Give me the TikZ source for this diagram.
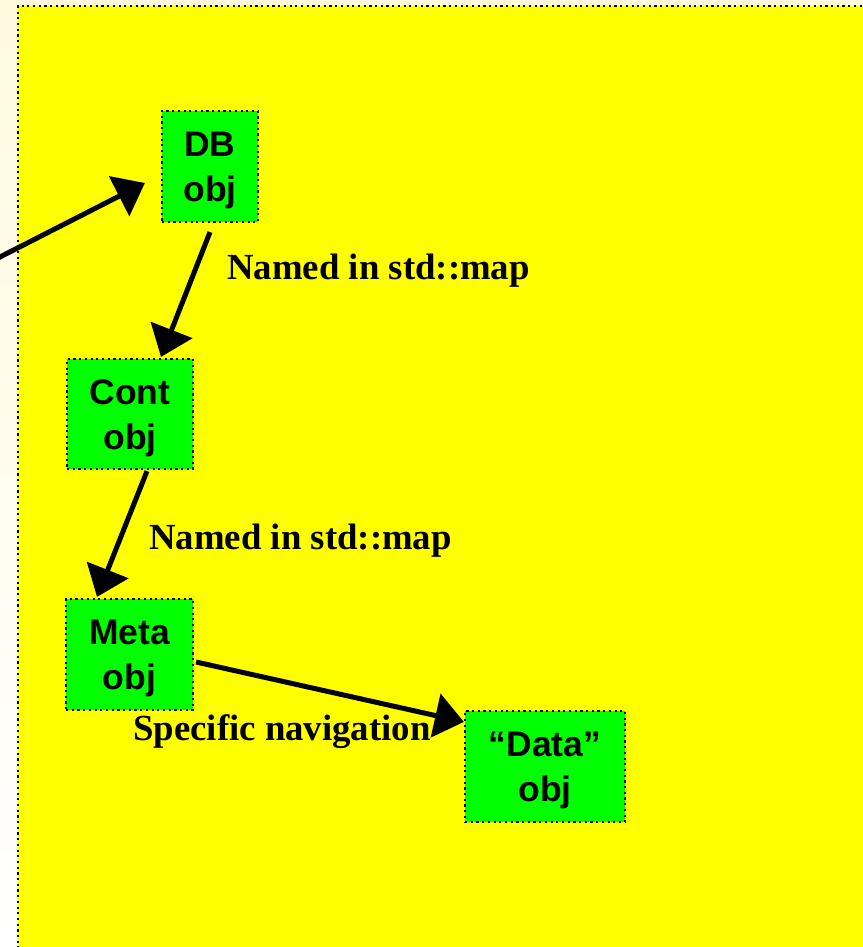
\documentclass[tikz,border=0pt]{standalone}
\usepackage{fontspec}
\setmainfont{Liberation Serif}
\newfontfamily\boxfont{Liberation Sans}
\usetikzlibrary{arrows.meta}
\definecolor{bgyellow}{RGB}{255,255,0}
\definecolor{boxgreen}{RGB}{0,255,0}
\definecolor{cream}{RGB}{255,250,222}
\tikzset{
  objbox/.style={draw=black, fill=boxgreen, line width=2.2pt, dash pattern=on 2.2pt off 3.5pt, inner sep=0pt},
  boxtext/.style={font=\boxfont\bfseries\fontsize{35.5}{45}\selectfont, align=center, inner sep=0pt},
  lbl/.style={font=\bfseries\fontsize{36.8}{42}\selectfont, inner sep=0pt, anchor=base west},
  arr/.style={line width=5pt, -{Triangle[length=29pt,width=44pt]}}
}
\begin{document}
\begin{tikzpicture}[x=1pt,y=-1pt]
\useasboundingbox (0,0) rectangle (862,947);
\shade[top color=cream, bottom color=white] (0,0) rectangle (862,947);
\fill[bgyellow] (18,6) rectangle (875,960);
\draw[line width=2.2pt, dash pattern=on 2.2pt off 3.5pt] (18,960) -- (18,6) -- (875,6);
% boxes
\node[objbox, minimum width=96pt, minimum height=111pt] (db) at (210,166.5) {};
\node[boxtext] (dbt) at ([yshift=-4pt]db.center) {DB\\obj};
\node[objbox, minimum width=126pt, minimum height=110pt] (cont) at (130,414) {};
\node[boxtext] (contt) at ([yshift=-4pt]cont.center) {Cont\\obj};
\node[objbox, minimum width=127pt, minimum height=111pt] (meta) at (129.5,654.5) {};
\node[boxtext] (metat) at ([yshift=-4pt]meta.center) {Meta\\obj};
\node[objbox, minimum width=160pt, minimum height=111pt] (data) at (545,766.5) {};
\node[boxtext] (datat) at ([yshift=-4pt]data.center) {“Data”\\obj};
% labels
\node[lbl] (l1) at (227,279) {Named in std::map};
\node[lbl] (l2) at (149,549) {Named in std::map};
\node[lbl] (l3) at (133,740) {Specific navigation};
% arrows
\coordinate (src) at (-2,258);
\draw[arr] (src) -- ([shift={(-16,16.5)}]db.west);
\draw[arr] ([shift={(0,9)}]db.south) -- ([shift={(31,-1)}]cont.north);
\draw[arr] ([shift={(17,1)}]cont.south) -- ([shift={(-32.5,-1)}]meta.north);
\draw[arr] ([shift={(2,7.5)}]meta.east) -- ([shift={(0,12)}]data.north west);
\end{tikzpicture}
\end{document}
